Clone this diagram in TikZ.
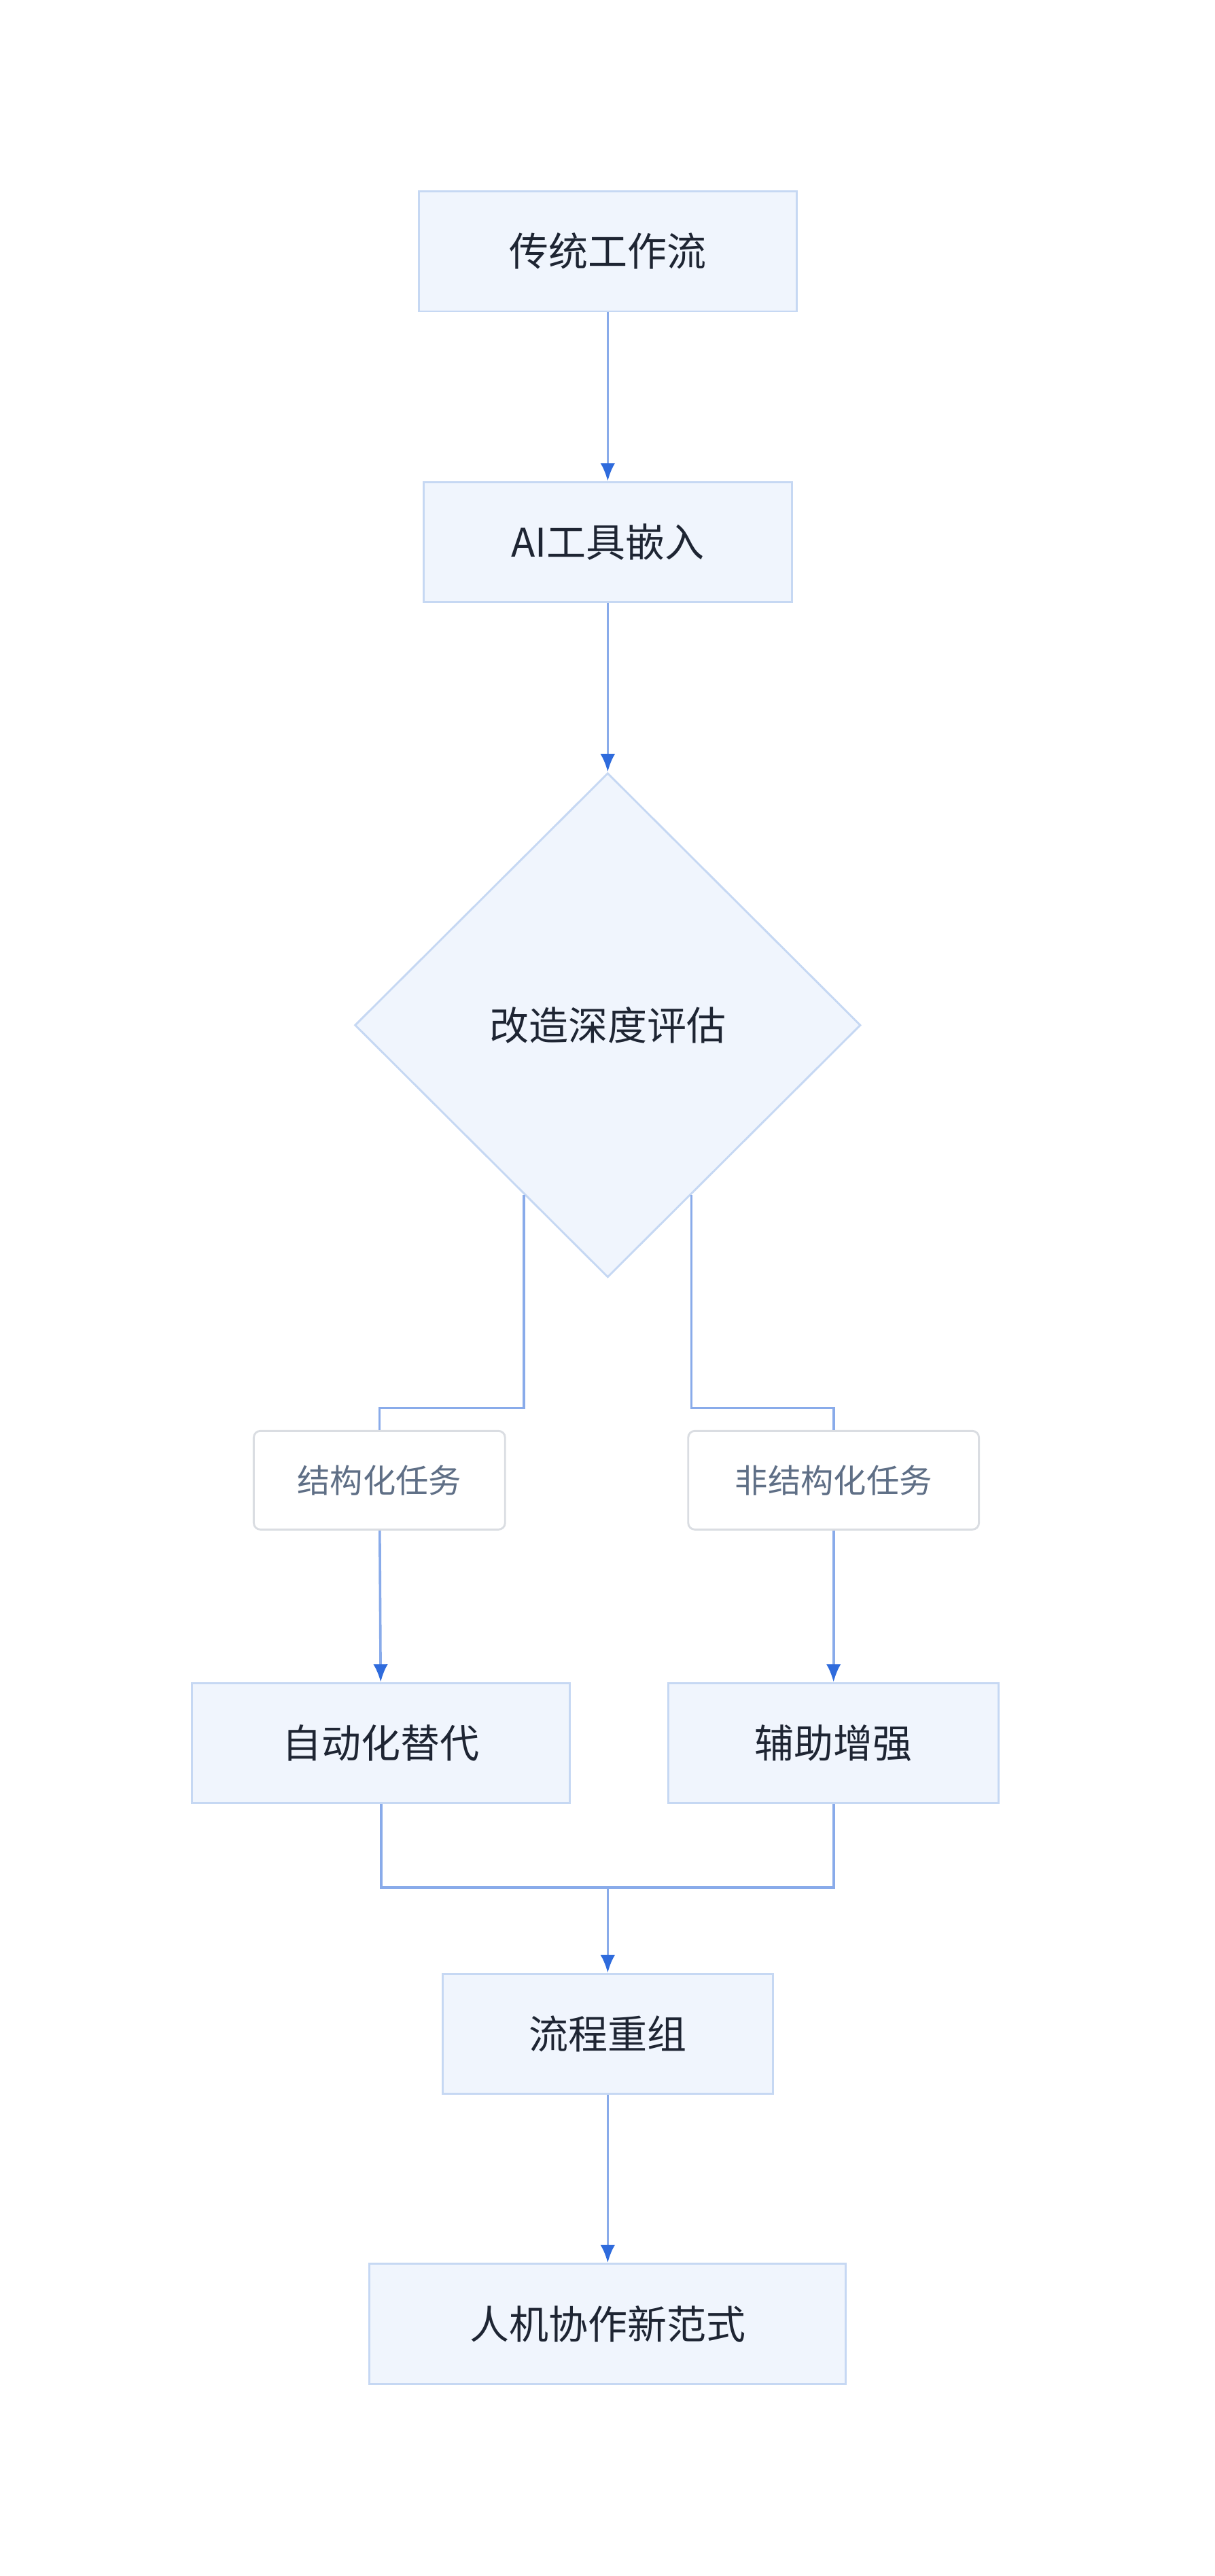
\documentclass[tikz,border=0pt]{standalone}
\usepackage{fontspec}
\setmainfont{Noto Sans CJK SC}
\usetikzlibrary{shapes.geometric, arrows.meta, positioning, calc}
\definecolor{boxfill}{HTML}{F0F5FD}
\definecolor{boxline}{HTML}{C6D8F3}
\definecolor{edgec}{HTML}{89ABEA}
\definecolor{tipc}{HTML}{2F6BDC}
\definecolor{lblline}{HTML}{DADDE2}
\definecolor{lbltext}{HTML}{5F6F86}
\definecolor{txt}{HTML}{1E2533}

\begin{document}
\begin{tikzpicture}[x=1pt, y=-1pt, >=Stealth]
\tikzset{
    stage/.style={rectangle, draw=boxline, fill=boxfill, line width=1.2pt, minimum height=73pt, text=txt, font=\fontsize{24}{28}\selectfont},
    judge/.style={diamond, draw=boxline, fill=boxfill, line width=1.2pt, aspect=1, minimum width=308pt, minimum height=307pt, inner sep=0pt, text=txt, font=\fontsize{24}{28}\selectfont},
    tag/.style={rectangle, rounded corners=4pt, draw=lblline, fill=white, line width=1.2pt, minimum height=60pt, text=lbltext, font=\fontsize{20}{24}\selectfont},
    flow/.style={draw=edgec, line width=1.5pt, -{Latex[length=11pt, width=9pt, color=tipc]}},
    wire/.style={draw=edgec, line width=1.5pt}
}
\useasboundingbox (0,0) rectangle (739.7,1568);

% --- main column ---
\node (trad) at (370,153) [stage, minimum width=230pt] {传统工作流};
\node (embed) at (370,330) [stage, minimum width=224pt] {AI工具嵌入};
\node (depth) at (370,624) [judge] {改造深度评估};

% --- branches ---
\node (struct) at (231,901) [tag, minimum width=153pt] {结构化任务};
\node (unstruct) at (507.5,901) [tag, minimum width=177pt] {非结构化任务};
\node (auto) at (232,1061) [stage, minimum width=230pt] {自动化替代};
\node (assist) at (507.5,1061) [stage, minimum width=201pt] {辅助增强};

% --- merge ---
\node (reorg) at (370,1238) [stage, minimum width=201pt] {流程重组};
\node (coop) at (370,1414.5) [stage, minimum width=290pt] {人机协作新范式};

\draw[flow] (trad) -- (embed);
\draw[flow] (embed) -- (depth);

\draw[wire] ($(depth.south)!0.33!(depth.west)$) |- (231,857) -- (struct.north);
\draw[wire] ($(depth.south)!0.33!(depth.east)$) |- (507.5,857) -- (unstruct.north);
\draw[flow] (struct) -- (auto);
\draw[flow] (unstruct) -- (assist);

\draw[wire] (auto.south) |- (370,1149);
\draw[wire] (assist.south) |- (370,1149);
\draw[flow] (370,1149) -- (reorg.north);
\draw[flow] (reorg) -- (coop);
\end{tikzpicture}
\end{document}
